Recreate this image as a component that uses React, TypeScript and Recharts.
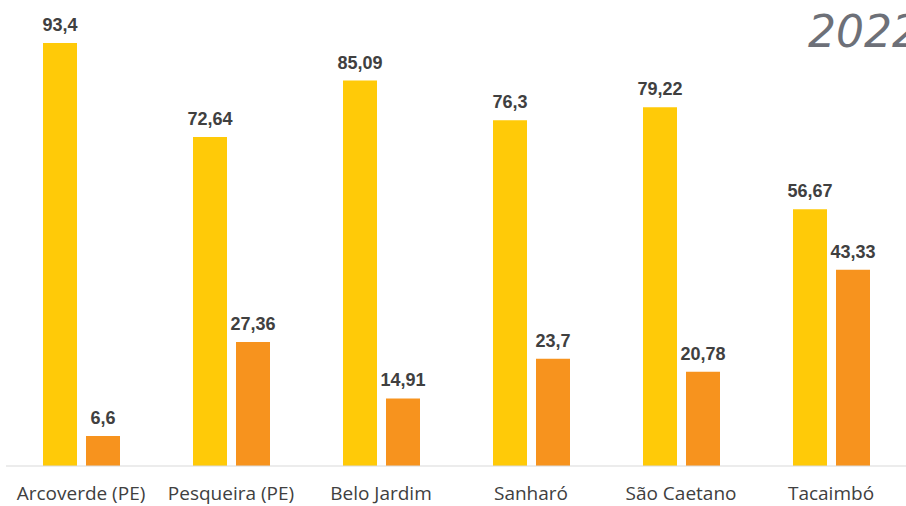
import { Bar, BarChart, LabelList, XAxis, YAxis } from "recharts";

const CITIES = [
  "Arcoverde (PE)",
  "Pesqueira (PE)",
  "Belo Jardim",
  "Sanharó",
  "São Caetano",
  "Tacaimbó",
];
const SERIES_A = [93.4, 72.64, 85.09, 76.3, 79.22, 56.67];
const SERIES_B = [6.6, 27.36, 14.91, 23.7, 20.78, 43.33];
const YEAR = "2022";

const YELLOW = "#FFCA08";
const ORANGE = "#F7931E";

const data = CITIES.map((name, i) => ({
  name,
  a: SERIES_A[i],
  b: SERIES_B[i],
}));

const fmt = (v: unknown) => String(v).replace(".", ",");

const labelStyle = {
  fill: "#404040",
  fontSize: 18,
  fontWeight: 700,
  fontFamily: "Liberation Sans",
};

export default function App() {
  return (
    <div style={{ position: "absolute", left: 0, top: 0, width: 906, height: 506, background: "#fff", overflow: "hidden" }}>
      <BarChart
        data={data}
        height={506}
        width={906}
        margin={{ top: 13, right: 0, bottom: 10, left: 6 }}
        barGap={9}
      >
        <XAxis
          dataKey="name"
          axisLine={{ stroke: "#d9d9d9" }}
          tickLine={false}
          tickMargin={15}
          interval={0}
          tick={{ fill: "#404040", fontSize: 19, fontFamily: "Open Sans" }}
        />
        <YAxis hide domain={[0, 100]} />
        <Bar dataKey="a" fill={YELLOW} barSize={34} isAnimationActive={false}>
          <LabelList dataKey="a" position="top" offset={12} formatter={fmt} style={labelStyle} />
        </Bar>
        <Bar dataKey="b" fill={ORANGE} barSize={34} isAnimationActive={false}>
          <LabelList dataKey="b" position="top" offset={12} formatter={fmt} style={labelStyle} />
        </Bar>
        <text
          x={808}
          y={47}
          fill="#6d7078"
          fontSize={44}
          fontStyle="italic"
          fontFamily="DejaVu Sans"
        >
          {YEAR}
        </text>
      </BarChart>
    </div>
  );
}
